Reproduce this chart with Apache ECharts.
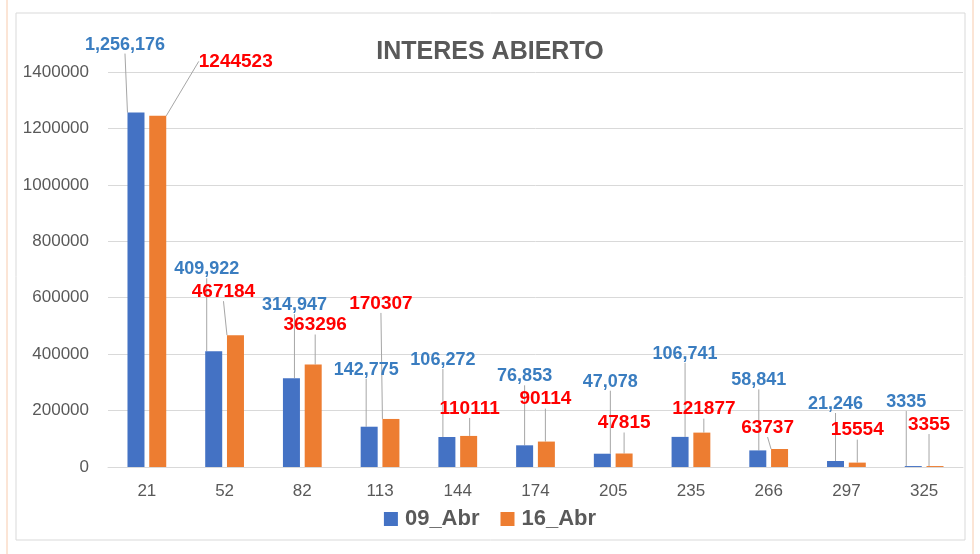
<!DOCTYPE html>
<html>
<head>
<meta charset="utf-8">
<script src="https://cdn.jsdelivr.net/npm/echarts@6/dist/echarts.min.js"></script>
<style>html,body{margin:0;padding:0;background:#fff;}#c{width:980px;height:554px;}</style>
</head>
<body>
<div id="c"></div>
<script>
const categories = ['21','52','82','113','144','174','205','235','266','297','325'];
const abr09 = [1256176, 409922, 314947, 142775, 106272, 76853, 47078, 106741, 58841, 21246, 3335];
const abr16 = [1244523, 467184, 363296, 170307, 110111, 90114, 47815, 121877, 63737, 15554, 3355];
const seriesNames = ['09_Abr', '16_Abr'];
const yTicks = { min: 0, max: 1400000, interval: 200000 };

// label offsets (style only), pixels relative to default 'top' label position
const off09 = [[-11,-59],[-7,-73],[3,-64],[-3,-48],[-4,-68],[0,-60],[8,-63],[5,-74],[1,-61],[0,-48],[-7,-55]];
const off16 = [[78,-45],[-12,-34],[2,-30],[-10,-106],[1,-18],[-1,-33],[0,-21],[2,-14],[-12,-12],[0,-23],[-6,-32]];

const FONT = 'Liberation Sans';
const chart = echarts.init(document.getElementById('c'), null, { renderer: 'canvas' });
chart.setOption({
  animation: false,
  backgroundColor: '#fff',
  title: {
    text: 'INTERES ABIERTO', left: 'center', top: 35,
    textStyle: { fontFamily: FONT, fontSize: 25, fontWeight: 'bold', color: '#595959' }
  },
  legend: {
    bottom: 19, left: 'center', itemWidth: 14, itemHeight: 14, itemGap: 21,
    icon: 'rect',
    textStyle: { fontFamily: FONT, fontSize: 22, fontWeight: 'bold', color: '#595959', padding: [0, 0, 0, 2] }
  },
  graphic: [
    { type: 'rect', shape: { x: 16, y: 13, width: 949, height: 527 }, style: { fill: 'none', stroke: '#d9d9d9', lineWidth: 1 }, silent: true },
    { type: 'line', shape: { x1: 7, y1: 0, x2: 7, y2: 554 }, style: { stroke: '#f8cbad', lineWidth: 1 }, silent: true },
    { type: 'line', shape: { x1: 973, y1: 0, x2: 973, y2: 554 }, style: { stroke: '#f8cbad', lineWidth: 1 }, silent: true }
  ],
  grid: { left: 108, right: 17, top: 72, bottom: 87, containLabel: false },
  xAxis: {
    type: 'category', data: categories,
    axisLine: { lineStyle: { color: '#d9d9d9' } },
    axisTick: { show: false },
    axisLabel: { fontFamily: FONT, fontSize: 17, color: '#595959', margin: 16 }
  },
  yAxis: {
    type: 'value', min: yTicks.min, max: yTicks.max, interval: yTicks.interval,
    axisLine: { show: false }, axisTick: { show: false },
    splitLine: { lineStyle: { color: '#d9d9d9' } },
    axisLabel: { fontFamily: FONT, fontSize: 17, color: '#595959', margin: 19, formatter: v => String(v) }
  },
  series: [
    {
      name: seriesNames[0], type: 'bar', data: abr09, barWidth: 17, barGap: '28%',
      itemStyle: { color: '#4472C4' },
      label: {
        show: true, position: 'top', distance: 0,
        fontFamily: FONT, fontSize: 18, fontWeight: 'bold', color: '#3A7DC0',
        formatter: p => p.value < 10000 ? String(p.value) : p.value.toLocaleString('en-US')
      },
      labelLine: { show: true, lineStyle: { color: '#a6a6a6', width: 1 } },
      labelLayout: p => ({ dx: off09[p.dataIndex][0], dy: off09[p.dataIndex][1] })
    },
    {
      name: seriesNames[1], type: 'bar', data: abr16, barWidth: 17, barGap: '28%',
      itemStyle: { color: '#ED7D31' },
      label: {
        show: true, position: 'top', distance: 0,
        fontFamily: FONT, fontSize: 19, fontWeight: 'bold', color: '#FF0000',
        formatter: p => String(p.value)
      },
      labelLine: { show: true, lineStyle: { color: '#a6a6a6', width: 1 } },
      labelLayout: p => ({ dx: off16[p.dataIndex][0], dy: off16[p.dataIndex][1] })
    }
  ]
});
</script>
</body>
</html>
